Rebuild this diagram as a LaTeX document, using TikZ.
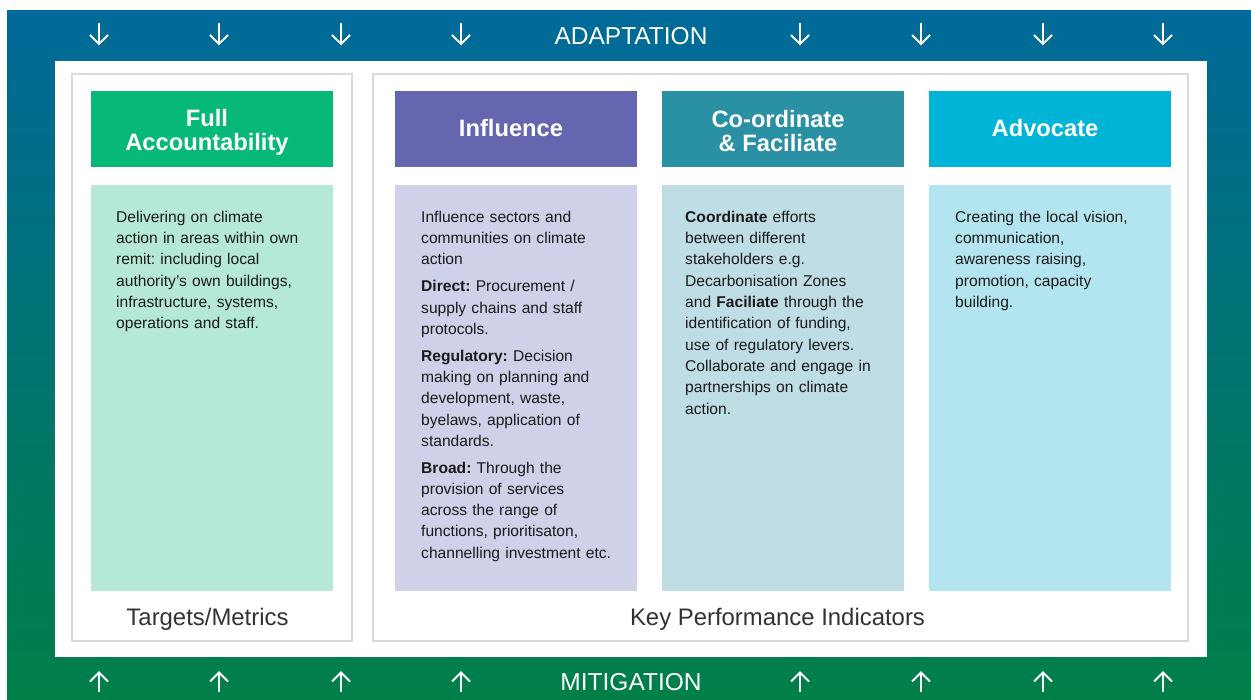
\documentclass[tikz,border=0pt]{standalone}
\usepackage{fontspec}
\setmainfont{Liberation Sans}
\frenchspacing
\definecolor{topblue}{HTML}{006A9A}
\definecolor{botgreen}{HTML}{007F48}
\definecolor{panelgray}{HTML}{DADADA}
\definecolor{hfull}{HTML}{07B978}
\definecolor{bfull}{HTML}{B5E9D5}
\definecolor{hinf}{HTML}{6566AF}
\definecolor{binf}{HTML}{CFD1E8}
\definecolor{hcoo}{HTML}{2A90A4}
\definecolor{bcoo}{HTML}{BFDDE5}
\definecolor{hadv}{HTML}{00B4D8}
\definecolor{badv}{HTML}{B3E5F0}
\definecolor{bodytext}{HTML}{1A1A1A}
\definecolor{kpitext}{HTML}{333333}
\begin{document}
\begin{tikzpicture}[x=1pt,y=-1pt,
  panel/.style={draw=panelgray, line width=1.5pt, fill=white, minimum height=567pt, inner sep=0pt},
  header/.style={minimum width=242pt, minimum height=76pt, inner sep=0pt},
  htext/.style={inner sep=0pt, text=white, align=center, font=\fontsize{23.7}{24}\selectfont\bfseries},
  bodybox/.style={minimum width=242pt, minimum height=406pt, inner sep=0pt},
  bodytxt/.style={anchor=north west, inner sep=0pt, text width=215pt, align=left, text=bodytext,
    font=\fontsize{15.6}{21.3}\selectfont},
  band/.style={text=white, inner sep=0pt, font=\fontsize{24.5}{25}\selectfont},
  kpi/.style={text=kpitext, inner sep=0pt, font=\fontsize{23.9}{24}\selectfont},
  arr/.style={draw=white, line width=2pt}
]
\useasboundingbox (0,0) rectangle (1251,700);
% gradient frame
\shade[top color=topblue, bottom color=botgreen] (7,11) rectangle (1251,700);
% inner white panel
\fill[white] (55,61) rectangle (1207,657);
% gray panels
\node[panel, minimum width=280pt] (leftpanel) at (212,357.5) {};
\node[panel, minimum width=815pt] (rightpanel) at (780.5,357.5) {};
% headers
\node[header, fill=hfull] (hFull) at (212,129) {};
\node[htext] (tFull) at (207,132) {Full\\Accountability};
\node[header, fill=hinf] (hInf) at (516,129) {};
\node[htext] (tInf) at (511,128.5) {Influence};
\node[header, fill=hcoo] (hCoo) at (783,129) {};
\node[htext] (tCoo) at (778,131.5) {Co-ordinate\\\& Faciliate};
\node[header, fill=hadv] (hAdv) at (1050,129) {};
\node[htext] (tAdv) at (1045,128.5) {Advocate};
% bodies
\node[bodybox, fill=bfull] (bFull) at (212,388) {};
\node[bodybox, fill=binf] (bInf) at (516,388) {};
\node[bodybox, fill=bcoo] (bCoo) at (783,388) {};
\node[bodybox, fill=badv] (bAdv) at (1050,388) {};
% body texts
\node[bodytxt] (xFull) at (116,210.8) {Delivering on climate\\action in areas within own\\remit: including local\\authority’s own buildings,\\infrastructure, systems,\\operations and staff.};
\node[bodytxt] (xInf) at (421,210.8) {Influence sectors and\\communities on climate\\action\\[5.5pt]\textbf{Direct:} Procurement /\\supply chains and staff\\protocols.\\[5.5pt]\textbf{Regulatory:} Decision\\making on planning and\\development, waste,\\byelaws, application of\\standards.\\[5.5pt]\textbf{Broad:} Through the\\provision of services\\across the range of\\functions, prioritisaton,\\channelling investment etc.};
\node[bodytxt] (xCoo) at (685,210.8) {\textbf{Coordinate} efforts\\between different\\stakeholders e.g.\\Decarbonisation Zones\\and \textbf{Faciliate} through the\\identification of funding,\\use of regulatory levers.\\Collaborate and engage in\\partnerships on climate\\action.};
\node[bodytxt] (xAdv) at (955,210.8) {Creating the local vision,\\communication,\\awareness raising,\\promotion, capacity\\building.};
% KPI labels
\node[kpi] (kTargets) at (207.5,619.5) {Targets/Metrics};
\node[kpi] (kKPI) at (777.5,619.5) {Key Performance Indicators};
% band labels
\node[band] (adapt) at (631,36) {ADAPTATION};
\node[band] (mitig) at (631,682) {MITIGATION};
% arrows
\foreach \x in {99,219,341,461,800,921,1043,1163}{
  \draw[arr] (\x,23.5) -- (\x,44);
  \draw[arr] (\x-9,35) -- (\x,44) -- (\x+9,35);
  \draw[arr] (\x,692) -- (\x,672.5);
  \draw[arr] (\x-9,681.5) -- (\x,672.5) -- (\x+9,681.5);
}
\end{tikzpicture}
\end{document}
